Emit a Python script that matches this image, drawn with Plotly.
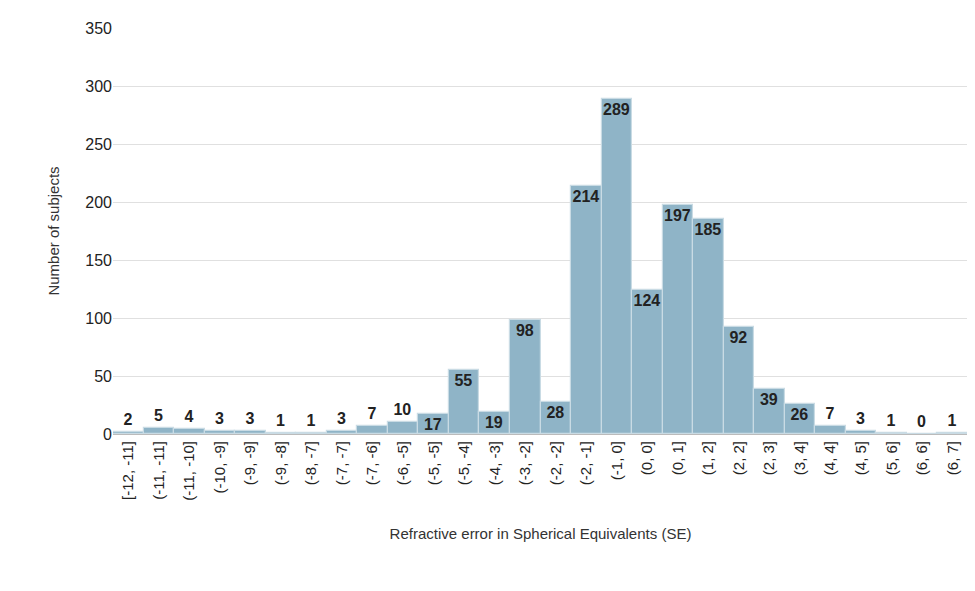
import plotly.graph_objects as go

bins = ["[-12, -11]", "(-11, -11]", "(-11, -10]", "(-10, -9]", "(-9, -9]", "(-9, -8]",
        "(-8, -7]", "(-7, -7]", "(-7, -6]", "(-6, -5]", "(-5, -5]", "(-5, -4]",
        "(-4, -3]", "(-3, -2]", "(-2, -2]", "(-2, -1]", "(-1, 0]", "(0, 0]",
        "(0, 1]", "(1, 2]", "(2, 2]", "(2, 3]", "(3, 4]", "(4, 4]", "(4, 5]",
        "(5, 6]", "(6, 6]", "(6, 7]"]
counts = [2, 5, 4, 3, 3, 1, 1, 3, 7, 10, 17, 55, 19, 98, 28, 214, 289, 124,
          197, 185, 92, 39, 26, 7, 3, 1, 0, 1]

positions = ["inside" if c >= 17 else "outside" for c in counts]
label_font = dict(size=16, color="#222222", family="Liberation Sans", weight=700)

fig = go.Figure(go.Bar(
    x=bins, y=counts, text=[str(c) for c in counts],
    textposition=positions, insidetextanchor="end", textangle=0,
    textfont=label_font, outsidetextfont=label_font, insidetextfont=label_font,
    cliponaxis=False,
    marker=dict(color="#8fb4c7", line=dict(color="#c9dbe4", width=1.2)),
))

fig.update_layout(
    width=975, height=591,
    plot_bgcolor="white", paper_bgcolor="white",
    bargap=0, showlegend=False,
    margin=dict(l=105, r=15, t=16, b=165),
    font=dict(family="Liberation Sans", color="#333333"),
    uniformtext=dict(minsize=16, mode="show"),
)
fig.update_xaxes(
    tickangle=-90, tickfont=dict(size=15, color="#222222"),
    title=dict(text="Refractive error in Spherical Equivalents (SE)",
               font=dict(size=15, color="#333333"), standoff=28),
    showline=True, linecolor="#bbbbbb", ticks="",
)
fig.update_yaxes(
    range=[0, 350], dtick=50, tickfont=dict(size=16, color="#222222"),
    title=dict(text="Number of subjects", font=dict(size=15, color="#333333"), standoff=22),
    showgrid=True, gridcolor="#e0e0e0", zeroline=False, ticks="",
)

fig.write_html("out.html")
